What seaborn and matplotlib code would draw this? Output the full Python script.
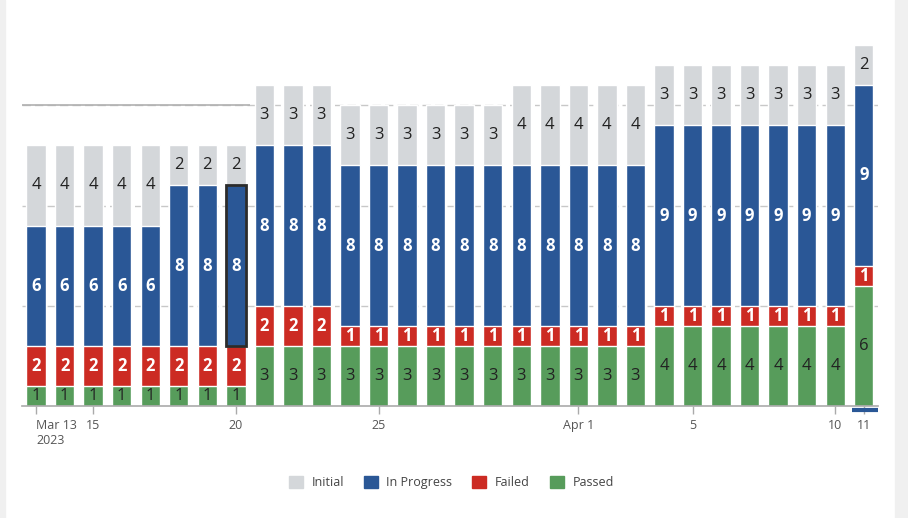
import numpy as np
import pandas as pd
import seaborn as sns
import matplotlib.pyplot as plt
from matplotlib.patches import Rectangle
from matplotlib.transforms import ScaledTranslation

# daily test status counts, Mar 13 .. Apr 11 2023
dates = pd.date_range("2023-03-13", "2023-04-11", freq="D")
passed = [1]*8 + [3]*3 + [3]*6 + [3]*5 + [4]*7 + [6]
failed = [2]*8 + [2]*3 + [1]*6 + [1]*5 + [1]*7 + [1]
in_progress = [6]*5 + [8]*3 + [8]*3 + [8]*6 + [8]*5 + [9]*7 + [9]
initial = [4]*5 + [2]*3 + [3]*3 + [3]*6 + [4]*5 + [3]*7 + [2]

tick_pos = [0, 2, 7, 12, 19, 23, 28, 29]
tick_labels = ["Mar 13\n2023", "15", "20", "25", "Apr 1", "5", "10", "11"]

series = ["Passed", "Failed", "In Progress", "Initial"]
colors = {"Initial": "#d4d7da", "In Progress": "#2a5796",
          "Failed": "#cc2b23", "Passed": "#579c5b"}
text_colors = {"Initial": "#222222", "In Progress": "white",
               "Failed": "white", "Passed": "#222222"}

df = pd.DataFrame({"day": np.arange(len(dates)), "Passed": passed, "Failed": failed,
                   "In Progress": in_progress, "Initial": initial})

sns.set_theme(style="white")
plt.rcParams['font.family'] = ['Open Sans', 'DejaVu Sans']

fig = plt.figure(figsize=(9.08, 5.18), dpi=100)
ax = fig.add_axes([0.024, 0.216, 0.943, 0.697])

ax.set_axisbelow(True)
for g in [5, 10, 15]:
    ax.axhline(g, color="#c8c8c8", lw=1, ls=(0, (6, 3)), zorder=0)
ax.hlines(15, -0.5, 7.5, color="#b0b0b0", lw=1.2, zorder=0)

# stack layers: draw cumulative totals from the top layer down
cum = np.zeros(len(df))
bottoms = {}
for s in series:
    bottoms[s] = cum.copy()
    cum = cum + df[s].values
for s in reversed(series):
    top = bottoms[s] + df[s].values
    sns.barplot(x=df["day"], y=top, color=colors[s], width=0.68, native_scale=True,
                edgecolor="white", linewidth=1, saturation=1, ax=ax, zorder=2)

for s in series:
    for i, v in enumerate(df[s].values):
        ax.text(i, bottoms[s][i] + v / 2, str(v), ha="center", va="center",
                fontsize=12, color=text_colors[s],
                fontweight="bold" if text_colors[s] == "white" else "normal", zorder=4)

# selected segment on Mar 20
sel = 7
ax.add_patch(Rectangle((sel - 0.34, bottoms["In Progress"][sel]), 0.68, in_progress[sel],
                       fill=False, edgecolor="#2b2b2b", lw=2, zorder=3))

ax.set_xlim(-0.5, 29.5)
ax.set_ylim(0, 18)
ax.set_xticks(tick_pos)
ax.set_xticklabels(tick_labels, fontsize=9, color="#555555")
first = ax.get_xticklabels()[0]
first.set_ha("left")
first.set_transform(first.get_transform() + ScaledTranslation(-14 / 100, 0, fig.dpi_scale_trans))
ax.tick_params(axis="x", length=6, width=1, color="#aaaaaa", pad=3, bottom=True)
ax.set_yticks([])
ax.set_xlabel("")
ax.set_ylabel("")
for sp in ["top", "right", "left"]:
    ax.spines[sp].set_visible(False)
ax.spines["bottom"].set_color("#aaaaaa")
ax.spines["bottom"].set_linewidth(1.2)

# current-day marker under Apr 11
ax.hlines(-0.18, 28.6, 29.5, color="#2a5796", lw=3, clip_on=False, zorder=5)

handles = [Rectangle((0, 0), 1, 1, color=colors[s]) for s in ["Initial", "In Progress", "Failed", "Passed"]]
fig.legend(handles, ["Initial", "In Progress", "Failed", "Passed"], loc="center",
           bbox_to_anchor=(0.497, 0.068), ncol=4, frameon=False, fontsize=9,
           labelcolor="#444444", handlelength=1.1, handleheight=1.1, columnspacing=1.6,
           handletextpad=0.7)

fig.patches.append(Rectangle((0, 0), 0.006, 1, transform=fig.transFigure,
                             color="#f0f0f0", zorder=-1))
fig.patches.append(Rectangle((0.986, 0), 0.014, 1, transform=fig.transFigure,
                             color="#f0f0f0", zorder=-1))

fig.savefig("out.png", dpi=100)
